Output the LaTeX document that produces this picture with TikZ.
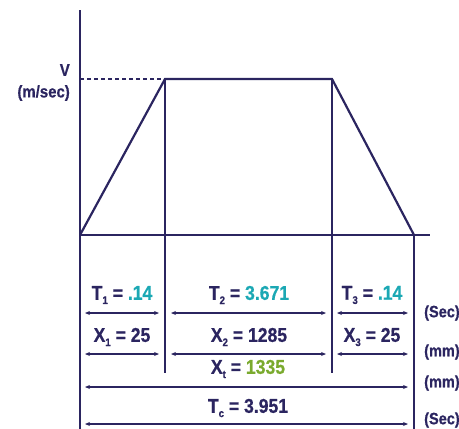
\documentclass[tikz,border=0pt]{standalone}
\usepackage{fontspec}
\setmainfont{Liberation Sans}[FakeStretch=0.88, BoldFeatures={FakeBold=0.6}]
\usetikzlibrary{arrows.meta,positioning}
\definecolor{plotnavy}{RGB}{43,37,96}
\definecolor{valteal}{RGB}{27,168,180}
\definecolor{valgreen}{RGB}{122,170,46}
\newcommand{\lowsub}[1]{\raisebox{-0.4ex}{\fontsize{11}{11}\selectfont #1}}
\tikzset{
  lbl/.style={text=plotnavy, font=\fontsize{20}{22}\selectfont\bfseries, inner sep=0pt},
  unit/.style={text=plotnavy, font=\fontsize{16.5}{18}\selectfont\bfseries, inner sep=0pt, anchor=west},
  thick line/.style={draw=plotnavy, line width=2.2pt},
  dimarrow/.style={draw=plotnavy, line width=1.2pt, {Stealth[length=5pt,width=4pt]}-{Stealth[length=5pt,width=4pt]}}
}
\begin{document}
\begin{tikzpicture}[x=1pt,y=-1pt]
\useasboundingbox (0,0) rectangle (459,429);
% axes and profile
\coordinate (o) at (80,235);
\coordinate (ytop) at (80,10);
\coordinate (ybot) at (80,429);
\coordinate (xend) at (430,235);
\coordinate (vmark) at (80,79);
\coordinate (p1) at (165,79);
\coordinate (p2) at (332,79);
\coordinate (e) at (414,235);
\coordinate (p1b) at (165,373);
\coordinate (p2b) at (332,373);
\coordinate (ebot) at (414,429);
\draw[thick line] (ytop) -- (ybot);
\draw[thick line] (o) -- (xend);
\draw[thick line] (o) -- (p1) -- (p2) -- (e);
\draw[thick line] (p1) -- (p1b);
\draw[thick line] (p2) -- (p2b);
\draw[thick line] (e) -- (ebot);
\draw[draw=plotnavy, line width=1.2pt, dash pattern=on 4pt off 3pt] (vmark) -- (p1);
\node[lbl, font=\fontsize{17}{19}\selectfont\bfseries, anchor=east] (vlbl) at (70,70) {V};
\node[lbl, font=\fontsize{17}{19}\selectfont\bfseries, anchor=east] (vunit) at (70,93) {(m/sec)};
% dimension arrows
\coordinate (a1) at (85,313);  \coordinate (b1) at (159,313);
\coordinate (a2) at (171,313); \coordinate (b2) at (326,313);
\coordinate (a3) at (337,313); \coordinate (b3) at (408,313);
\coordinate (c1) at (85,354);  \coordinate (d1) at (159,354);
\coordinate (c2) at (171,354); \coordinate (d2) at (326,354);
\coordinate (c3) at (337,354); \coordinate (d3) at (408,354);
\coordinate (xta) at (85,387); \coordinate (xtb) at (408,387);
\coordinate (tca) at (85,424); \coordinate (tcb) at (408,424);
\draw[dimarrow] (a1) -- (b1);
\draw[dimarrow] (a2) -- (b2);
\draw[dimarrow] (a3) -- (b3);
\draw[dimarrow] (c1) -- (d1);
\draw[dimarrow] (c2) -- (d2);
\draw[dimarrow] (c3) -- (d3);
\draw[dimarrow] (xta) -- (xtb);
\draw[dimarrow] (tca) -- (tcb);
% labels
\node[lbl] (t1) at (122,295) {T\lowsub{1} = \textcolor{valteal}{.14}};
\node[lbl] (t2) at (249,295) {T\lowsub{2} = \textcolor{valteal}{3.671}};
\node[lbl] (t3) at (372,295) {T\lowsub{3} = \textcolor{valteal}{.14}};
\node[lbl] (x1) at (122,337) {X\lowsub{1} = 25};
\node[lbl] (x2) at (249,337) {X\lowsub{2} = 1285};
\node[lbl] (x3) at (372,337) {X\lowsub{3} = 25};
\node[lbl] (xt) at (248,369) {X\lowsub{t} = \textcolor{valgreen}{1335}};
\node[lbl] (tc) at (248,408) {T\lowsub{c} = 3.951};
\node[unit] (u1) at (424,313) {(Sec)};
\node[unit] (u2) at (424,352) {(mm)};
\node[unit] (u3) at (424,383) {(mm)};
\node[unit] (u4) at (424,420) {(Sec)};
\end{tikzpicture}
\end{document}
